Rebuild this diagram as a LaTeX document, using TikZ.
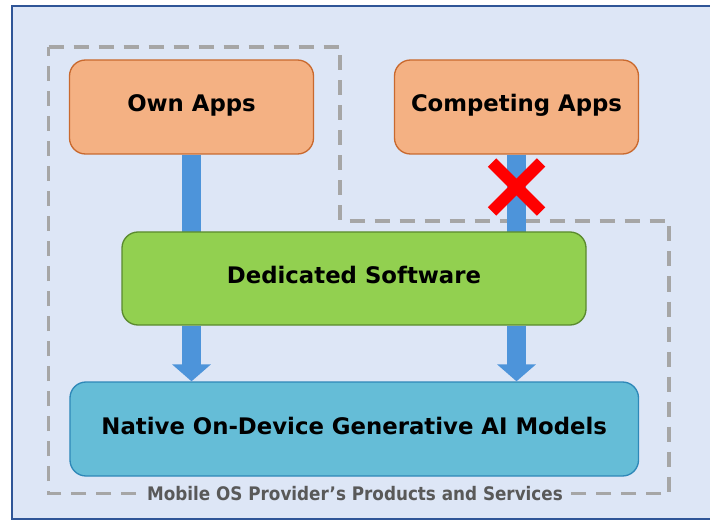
\documentclass[tikz,border=0pt]{standalone}
\usepackage{fontspec}
\setmainfont{DejaVu Sans}
\newfontfamily\condfont{DejaVu Sans Condensed}
\usetikzlibrary{arrows.meta}

\definecolor{pagebg}{HTML}{DDE6F6}
\definecolor{framecol}{HTML}{2F5597}
\definecolor{appfill}{HTML}{F4B183}
\definecolor{appline}{HTML}{C9692E}
\definecolor{swfill}{HTML}{92D050}
\definecolor{swline}{HTML}{5A8A2E}
\definecolor{aifill}{HTML}{65BDD7}
\definecolor{ailine}{HTML}{2E88B8}
\definecolor{flowblue}{HTML}{4D94DA}
\definecolor{regiongray}{HTML}{A6A6A6}
\definecolor{labelgray}{HTML}{595959}

\tikzset{
  box/.style={draw, line width=1pt, rounded corners=12pt, align=center,
    font=\fontsize{17.1pt}{20pt}\selectfont\bfseries, text=black, inner sep=0pt,
    text height=12pt, text depth=4.5pt},
  appbox/.style={box, fill=appfill, draw=appline,
    minimum width=183pt, minimum height=70.5pt},
  swbox/.style={box, fill=swfill, draw=swline,
    minimum width=348pt, minimum height=69.75pt},
  aibox/.style={box, fill=aifill, draw=ailine,
    minimum width=426.4pt, minimum height=70.5pt},
  flowbar/.style={draw=flowblue, line width=14.25pt},
  flowarrow/.style={flowbar, -{Triangle[width=28.5pt,length=12.75pt]}},
  region/.style={draw=regiongray, line width=2.4pt, dash pattern=on 11.25pt off 7.5pt},
  regionlabel/.style={fill=pagebg, text=labelgray, inner xsep=3.5pt, inner ysep=1pt,
    font=\condfont\fontsize{14pt}{16pt}\selectfont\bfseries},
  blockmark/.style={draw=red, line width=9pt, line cap=butt},
}

\begin{document}
\begin{tikzpicture}[x=0.75pt, y=-0.75pt]
  \useasboundingbox (0,0) rectangle (710,520);
  \clip (0,0) rectangle (710,520);

  % panel background and frame
  \draw[framecol, line width=1.6pt, fill=pagebg] (12,6) rectangle (740,519);

  % boundary of the provider's own products
  \draw[region] (48.5,47) -- (340,47) -- (340,221) -- (669,221)
    -- (669,493.5) -- (48.5,493.5) -- cycle;
  \node[regionlabel] (scope) at (355,494) {Mobile OS Provider’s Products and Services};

  % application layer
  \node[appbox] (own)  at (191.5,107) {Own Apps};
  \node[appbox] (comp) at (516.5,107) {Competing Apps};

  % vertical access bars into the dedicated software
  \draw[flowbar] (own.south) -- (own.south |- 0,232);
  \draw[flowbar] (comp.south) -- (comp.south |- 0,232);

  % middleware and model layers
  \node[swbox] (soft)   at (354,278.5) {Dedicated Software};
  \node[aibox] (native) at (354.25,429) {Native On-Device Generative AI Models};

  % arrows from the dedicated software to the models
  \draw[flowarrow] (own.south |- soft.south) -- (own.south |- native.north);
  \draw[flowarrow] (comp.south |- soft.south) -- (comp.south |- native.north);

  % blocked access for competing apps
  \coordinate (block) at (516.5,187);
  \draw[blockmark] ([shift={(-24.5,-24.5)}]block) -- ([shift={(24.5,24.5)}]block);
  \draw[blockmark] ([shift={(24.5,-24.5)}]block) -- ([shift={(-24.5,24.5)}]block);
\end{tikzpicture}
\end{document}
